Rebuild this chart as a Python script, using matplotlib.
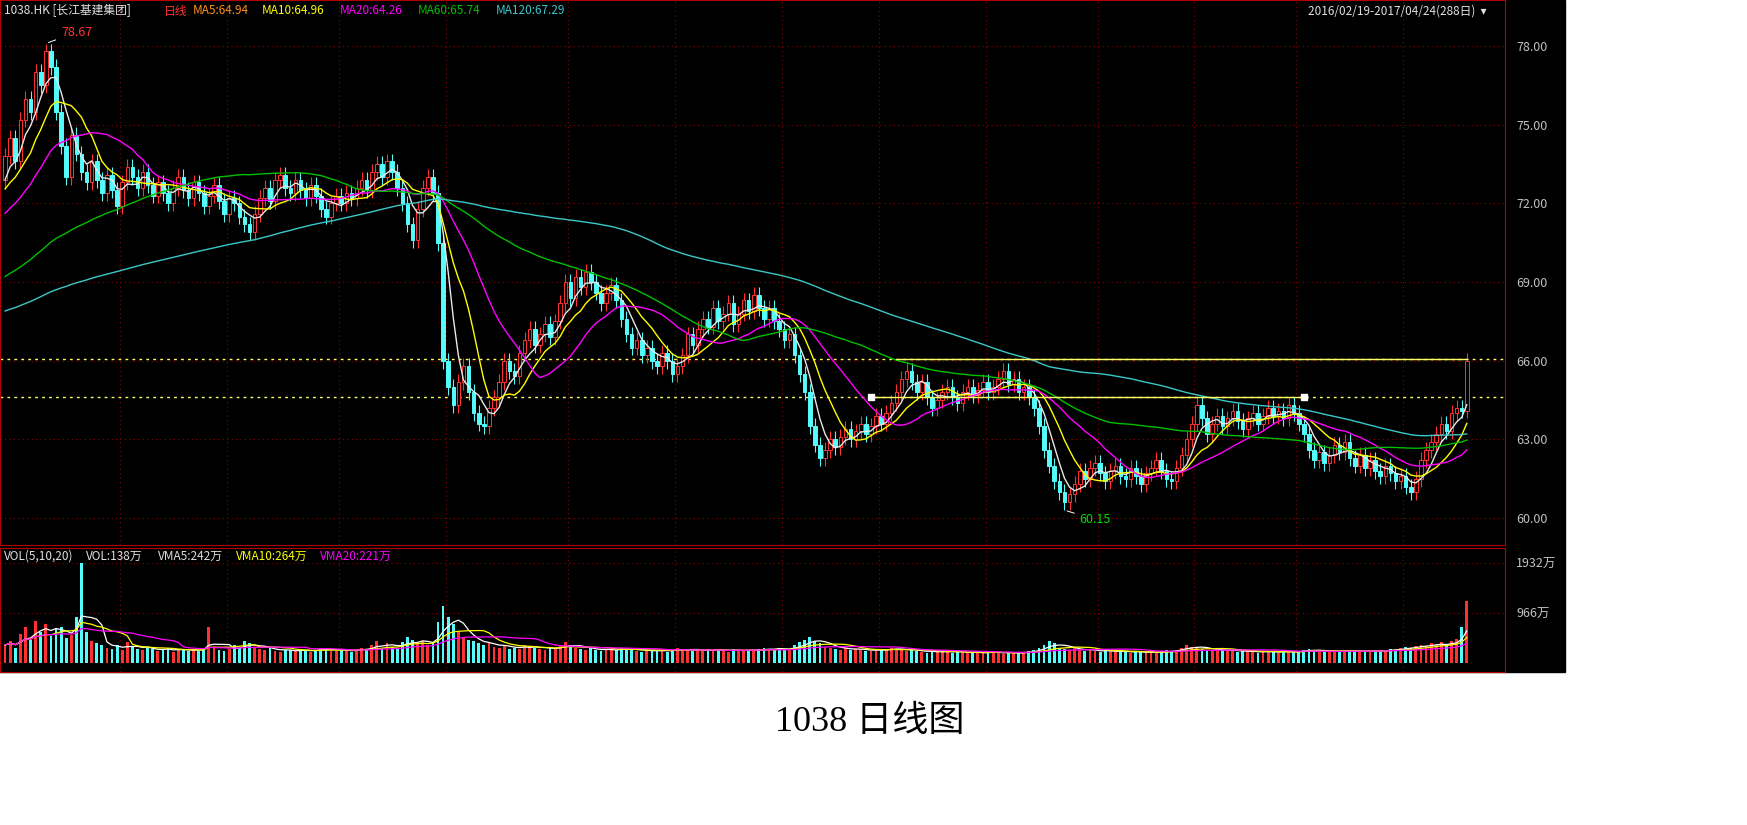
import numpy as np
import pandas as pd
import matplotlib
matplotlib.use("Agg")
import matplotlib.pyplot as plt
from matplotlib.patches import Rectangle

plt.rcParams["font.family"] = ["Noto Sans CJK SC", "DejaVu Sans"]

# daily closes, 2016/02/19 - 2017/04/24 (288 days)
closes = [
    73.8, 74.5, 73.6, 75.2, 76.0, 75.5, 77.0, 76.5, 77.8, 77.2,
    75.5, 74.2, 73.0, 74.6, 73.9, 73.2, 72.8, 73.6, 72.9, 72.4,
    73.1, 72.5, 71.9, 72.8, 73.4, 73.0, 72.6, 73.2, 72.7, 72.3,
    72.8, 72.4, 72.0, 72.6, 73.0, 72.5, 72.2, 72.8, 72.4, 71.9,
    72.3, 72.7, 72.1, 71.6, 72.2, 72.0, 71.5, 71.2, 70.9, 71.6,
    72.2, 72.6, 72.1, 72.9, 73.1, 72.6, 72.4, 72.9, 72.5, 72.2,
    72.7, 72.3, 71.8, 71.5, 72.0, 72.3, 72.0, 72.4, 72.2, 72.6,
    72.9, 72.5, 73.2, 73.5, 73.0, 73.6, 73.2, 72.6, 72.0, 71.2,
    70.6, 71.8, 72.6, 73.0, 72.4, 70.5, 66.0, 65.0, 64.3, 65.2,
    65.8, 64.8, 64.0, 63.6, 63.5, 64.2, 64.6, 65.2, 66.0, 65.6,
    65.4, 66.3, 66.8, 67.2, 66.6, 67.0, 67.4, 66.9, 67.5, 68.2,
    69.0, 68.4, 69.2, 68.8, 69.4, 69.0, 68.6, 68.2, 68.6, 68.9,
    68.3, 67.6, 67.0, 66.5, 66.8, 66.2, 66.5, 66.0, 65.8, 66.3,
    66.0, 65.5, 65.8, 66.2, 67.0, 66.6, 67.2, 67.6, 67.3, 68.0,
    67.5, 67.8, 68.2, 67.4, 67.8, 68.3, 67.9, 68.5, 68.0, 67.6,
    68.0, 67.5, 67.2, 66.8, 67.0, 66.2, 65.5, 64.8, 63.5, 62.8,
    62.3, 62.6, 63.0, 62.7, 63.1, 63.4, 63.0, 63.3, 63.6, 63.2,
    63.5, 63.9, 63.6, 64.0, 64.4, 64.8, 65.3, 65.6, 65.2, 64.8,
    65.2, 64.6, 64.2, 64.5, 64.8, 65.0, 64.6, 64.4, 64.8, 65.0,
    64.7, 64.9, 65.2, 64.8, 65.0, 65.3, 65.6, 65.1, 65.3, 64.8,
    65.0, 64.6, 64.2, 63.5, 62.6, 62.0, 61.4, 61.0, 60.6, 60.9,
    61.3, 61.8, 61.5, 61.9, 62.1, 61.7, 61.4, 61.8, 62.0, 61.6,
    61.5, 61.9, 61.6, 61.3, 61.7, 61.9, 62.2, 61.8, 61.5, 61.4,
    61.9, 62.4, 63.0, 63.6, 64.3, 63.8, 63.2, 63.6, 63.9, 63.5,
    63.8, 64.1, 63.7, 63.4, 63.8, 64.0, 63.6, 63.9, 64.2, 63.9,
    64.1, 63.8, 64.3, 64.0, 63.6, 63.2, 62.6, 62.2, 62.5, 62.1,
    62.4, 62.8, 62.5, 62.9, 62.3, 62.0, 62.4, 61.9, 62.2, 61.8,
    61.6, 62.0, 61.7, 61.4, 61.6, 61.2, 61.0, 61.5, 62.2, 62.6,
    62.9, 63.2, 63.6, 63.3, 64.0, 64.2, 64.1, 66.0,
]

# closes before the visible window (used only for the long moving averages)
history = [
    65.5, 66.0, 66.4, 65.8, 66.2, 66.6, 66.1, 65.7, 66.0, 66.3,
    66.5, 66.0, 65.6, 65.9, 66.4, 66.8, 66.2, 65.8, 66.1, 66.5,
    66.9, 66.4, 66.0, 66.6, 67.0, 66.7, 66.3, 66.8, 67.1, 66.6,
    67.2, 66.8, 66.5, 67.0, 67.4, 67.0, 66.6, 67.1, 67.3, 66.9,
    67.0, 67.4, 66.8, 66.5, 67.1, 67.5, 67.0, 66.6, 67.2, 66.9,
    66.4, 66.8, 66.2, 66.0, 66.5, 66.9, 66.6, 66.3, 66.7, 66.4,
    66.9, 67.3, 66.8, 67.2, 67.6, 67.1, 66.7, 67.2, 67.5, 67.0,
    67.3, 67.8, 67.4, 67.1, 67.6, 68.0, 67.6, 67.2, 67.7, 67.5,
    67.8, 68.3, 67.9, 67.6, 68.1, 68.5, 68.0, 67.7, 68.2, 68.4,
    68.6, 69.1, 68.7, 68.9, 69.4, 69.0, 68.8, 69.3, 69.6, 69.2,
    69.8, 70.3, 70.0, 70.6, 71.0, 70.5, 70.2, 70.8, 71.2, 70.7,
    71.5, 72.0, 71.6, 72.2, 72.8, 72.4, 72.0, 72.6, 73.2, 72.9,
]

# volume, 万 shares
volumes = [
    350, 420, 300, 560, 700, 450, 820, 600, 760, 520,
    650, 700, 480, 550, 900, 1932, 600, 420, 380, 350,
    300, 280, 350, 260, 400, 330, 280, 250, 300, 270,
    240, 260, 300, 220, 280, 250, 230, 270, 240, 300,
    700, 320, 260, 240, 280, 350, 300, 420, 380, 300,
    280, 260, 300, 240, 220, 260, 250, 230, 270, 240,
    220, 260, 300, 280, 240, 230, 250, 270, 220, 260,
    300, 280, 350, 420, 300, 380, 320, 280, 400, 500,
    450, 380, 420, 350, 400, 800, 1100, 900, 750, 600,
    500, 450, 420, 380, 350, 400, 320, 300, 350, 280,
    300, 280, 350, 320, 300, 280, 260, 300, 280, 350,
    400, 350, 300, 280, 260, 300, 250, 230, 280, 260,
    250, 300, 280, 260, 240, 220, 250, 230, 260, 240,
    220, 260, 300, 280, 250, 230, 260, 240, 270, 250,
    260, 240, 220, 280, 250, 230, 260, 240, 270, 300,
    280, 260, 300, 250, 280, 350, 400, 450, 500, 420,
    380, 320, 300, 280, 260, 300, 250, 280, 260, 240,
    230, 250, 280, 260, 300, 280, 250, 230, 260, 240,
    220, 200, 230, 210, 240, 220, 200, 230, 210, 190,
    200, 220, 190, 210, 230, 200, 180, 210, 190, 200,
    220, 240, 260, 300, 350, 420, 380, 300, 280, 260,
    300, 250, 230, 260, 240, 220, 250, 230, 210, 240,
    220, 200, 230, 210, 190, 220, 200, 230, 250, 240,
    260, 300, 350, 320, 300, 280, 260, 240, 270, 250,
    230, 250, 220, 240, 210, 230, 200, 220, 240, 210,
    200, 220, 240, 210, 230, 260, 280, 250, 230, 210,
    230, 250, 220, 240, 260, 230, 210, 240, 220, 260,
    250, 230, 280, 260, 300, 320, 290, 330, 360, 340,
    380, 350, 400, 330, 420, 460, 700, 1200,
]

month_starts = [23, 44, 66, 87, 111, 132, 153, 172, 193, 215, 234, 254, 275]
price_ticks = [60, 63, 66, 69, 72, 75, 78]
resist_upper = 66.05
resist_lower = 64.6

W, H = 1747, 825
fig = plt.figure(figsize=(W / 100, H / 100), dpi=100, facecolor="white")
fig.patches.append(Rectangle((0, 1 - 672 / H), 1565 / W, 672 / H,
                             transform=fig.transFigure, color="black", zorder=-10))

n = len(closes)
x = np.arange(n)
c = np.array(closes)
full = pd.Series(history + closes)
opens = np.r_[history[-1], c[:-1]]
highs = np.maximum(opens, c) + 0.3
lows = np.minimum(opens, c) - 0.3
up = c >= opens
RED, CYAN = "#ff3232", "#54fcfc"

ax = fig.add_axes([0, 1 - 545 / H, 1505 / W, 545 / H], facecolor="black")
vx = fig.add_axes([0, 1 - 672 / H, 1505 / W, 124 / H], facecolor="black")

for a in (ax, vx):
    for s in a.spines.values():
        s.set_color("#b00000")
    a.set_xlim(-1, 294.5)
    a.tick_params(axis="x", bottom=False, labelbottom=False)
    a.yaxis.tick_right()
    a.tick_params(axis="y", colors="#c0c0c0", labelsize=9, length=0, pad=8)
    for m in month_starts:
        a.axvline(m - 0.5, color="#8b0000", ls=(0, (1, 3)), lw=0.8, zorder=1)

# candles
for i in range(n):
    col = RED if up[i] else CYAN
    ax.vlines(i, lows[i], highs[i], color=col, lw=0.8, zorder=3)
    b0, b1 = sorted((opens[i], c[i]))
    ax.add_patch(Rectangle((i - 0.35, b0), 0.7, max(b1 - b0, 0.04),
                           facecolor="black" if up[i] else CYAN,
                           edgecolor=col, lw=0.7, zorder=4))

ma_specs = [(5, "#e8e8e8"), (10, "#ffff00"), (20, "#ff00ff"), (60, "#00c000"), (120, "#3cc8c8")]
off = len(history)
for p, col in ma_specs:
    ma = full.rolling(p).mean().values[off:]
    ax.plot(x, ma, color=col, lw=1.0, zorder=5)

ax.set_ylim(58.97, 79.76)
ax.set_yticks(price_ticks)
ax.set_yticklabels([f"{t:.2f}" for t in price_ticks])
for t in price_ticks:
    ax.axhline(t, color="#8b0000", ls=(0, (1, 3)), lw=0.8, zorder=1)

ax.axhline(resist_upper, color="#ffff66", ls=(0, (2, 3)), lw=1.0, zorder=2)
ax.axhline(resist_lower, color="#ffff66", ls=(0, (2, 3)), lw=1.0, zorder=2)
ax.plot([175, n - 1], [resist_upper, resist_upper], color="#ffff66", lw=1.0, zorder=6)
ax.plot([170, 255], [resist_lower, resist_lower], color="#ffff66", lw=1.0, zorder=6)
ax.plot([170, 255], [resist_lower, resist_lower], "s", color="white", ms=4, zorder=7)

imax = int(np.argmax(highs))
imin = int(np.argmin(lows))
ax.annotate(f"{78.67:.2f}", xy=(imax, highs[imax]), xytext=(imax + 3, 78.4),
            color=RED, fontsize=9, arrowprops=dict(arrowstyle="-", color="white", lw=0.7))
ax.annotate(f"{60.15:.2f}", xy=(imin, lows[imin]), xytext=(imin + 3, 59.8),
            color="#00e000", fontsize=9, arrowprops=dict(arrowstyle="-", color="white", lw=0.7))

# header
items = [("1038.HK [长江基建集团]", "#e0e0e0"), ("日线", "#ff3030"), ("MA5:64.94", "#ff9020"),
         ("MA10:64.96", "#ffff00"), ("MA20:64.26", "#ff00ff"), ("MA60:65.74", "#00c000"),
         ("MA120:67.29", "#3cc8c8")]
xs = [4, 164, 193, 262, 340, 418, 496]
for (txt, col), px in zip(items, xs):
    fig.text(px / W, 1 - 11 / H, txt, color=col, fontsize=8.5, va="center")
fig.text(1487 / W, 1 - 11 / H, "2016/02/19-2017/04/24(288日)  ▾", color="#e0e0e0",
         fontsize=8.5, va="center", ha="right")

# volume
vol = np.array(volumes)
vcols = [RED if u else CYAN for u in up]
vx.bar(x, vol, width=0.55, color=vcols, zorder=3)
vs = pd.Series(vol)
for p, col in [(5, "white"), (10, "#ffff00"), (20, "#ff00ff")]:
    vx.plot(x, vs.rolling(p, min_periods=1).mean(), color=col, lw=0.9, zorder=4)
vx.set_ylim(-170, 2222)
vx.set_yticks([966, 1932])
vx.set_yticklabels(["966万", "1932万"])
for t in (966, 1932):
    vx.axhline(t, color="#8b0000", ls=(0, (1, 3)), lw=0.8, zorder=1)

vitems = [("VOL(5,10,20)", "#e0e0e0"), ("VOL:138万", "#e0e0e0"), ("VMA5:242万", "#e0e0e0"),
          ("VMA10:264万", "#ffff00"), ("VMA20:221万", "#ff00ff")]
vxs = [4, 86, 158, 236, 320]
for (txt, col), px in zip(vitems, vxs):
    fig.text(px / W, 1 - 556 / H, txt, color=col, fontsize=8.5, va="center")

fig.text(870 / W, 1 - 722 / H, "1038 日线图", fontsize=26, ha="center", va="center",
         color="black", family=["Liberation Serif", "Noto Sans CJK SC"])

fig.savefig("out.png", dpi=100, facecolor="white")
